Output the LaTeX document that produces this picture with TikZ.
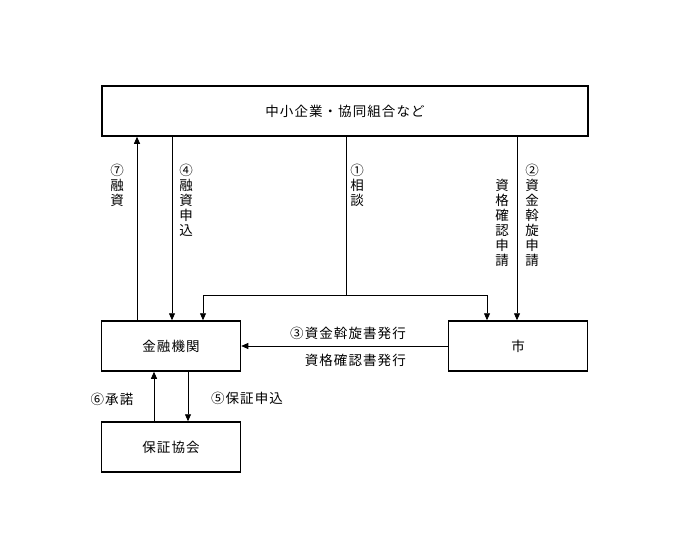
\documentclass[tikz,border=0pt]{standalone}
\usepackage{fontspec}
\setmainfont{Noto Sans CJK JP}[LetterSpace=8]
\usetikzlibrary{arrows.meta}
\newcommand\myfs{\fontsize{13.5}{15}\selectfont}
\begin{document}
\begin{tikzpicture}[x=1pt,y=-1pt,
 box/.style={draw,line width=1.5pt,minimum width=139pt,minimum height=50pt,inner sep=0pt,font=\myfs},
 arr/.style={line width=0.8pt,-{Triangle[length=7pt,width=6pt]}},
 ln/.style={line width=0.8pt},
 lab/.style={inner sep=0pt,font=\myfs},
 vlab/.style={inner sep=0pt,font=\myfs,align=center,anchor=north}]
\useasboundingbox[fill=white] (0,0) rectangle (690,559);
\node[box,minimum width=486pt] (top) at (345,111) {中小企業・協同組合など};
\node[box] (kin) at (171,346) {金融機関};
\node[box] (shi) at (518,346) {市};
\node[box] (hos) at (171,447) {保証協会};
% 7 and 4
\draw[arr] (kin.north -| 137,0) -- (top.south -| 137,0);
\draw[arr] (top.south -| 172,0) -- (kin.north -| 172,0);
% 1
\coordinate (jm) at (346,295);
\coordinate (jl) at (203,295);
\coordinate (jr) at (487,295);
\draw[ln] (top.south -| jm) -- (jm);
\draw[arr] (jr) -- (jl) -- (kin.north -| jl);
\draw[arr] (jl) -- (jr) -- (shi.north -| jr);
% 2
\draw[arr] (top.south -| 517,0) -- (shi.north -| 517,0);
% 3
\draw[arr] (shi.west) -- (kin.east);
% 6 and 5
\draw[arr] (hos.north -| 154,0) -- (kin.south -| 154,0);
\draw[arr] (kin.south -| 188,0) -- (hos.north -| 188,0);
% labels
\node[vlab] (l7) at (117,164) {⑦\\融\\資};
\node[vlab] (l4) at (186,164) {④\\融\\資\\申\\込};
\node[vlab] (l1) at (357,164) {①\\相\\談};
\node[vlab] (lk) at (502,179) {資\\格\\確\\認\\申\\請};
\node[vlab] (l2) at (532,164) {②\\資\\金\\斡\\旋\\申\\請};
\node[lab,anchor=east] (l3) at (406,333) {③資金斡旋書発行};
\node[lab,anchor=east] (l3b) at (406,360) {資格確認書発行};
\node[lab] (l6) at (112,399) {⑥承諾};
\node[lab] (l5) at (247,398) {⑤保証申込};
\end{tikzpicture}
\end{document}
